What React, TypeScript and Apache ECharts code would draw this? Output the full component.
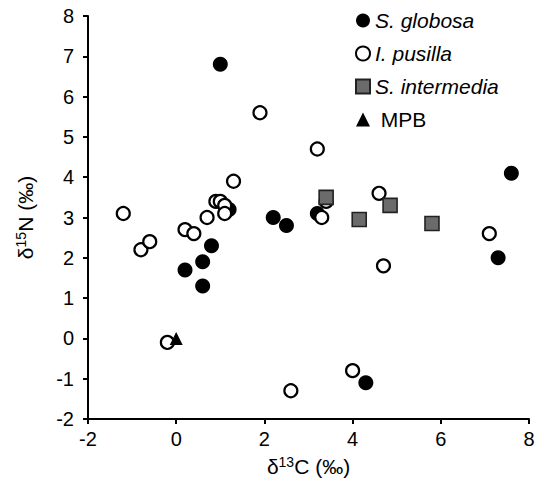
import React, { useEffect, useRef } from "react";
import * as echarts from "echarts";

const globosaX = [1.0, 0.2, 0.6, 0.6, 0.8, 1.2, 2.2, 2.5, 3.2, 4.3, 7.3, 7.6];
const globosaY = [6.8, 1.7, 1.9, 1.3, 2.3, 3.2, 3.0, 2.8, 3.1, -1.1, 2.0, 4.1];

const pusillaX = [-1.2, -0.8, -0.6, -0.2, 0.2, 0.4, 0.7, 0.9, 1.0, 1.1, 1.1, 1.3, 1.9, 2.6, 3.2, 3.3, 3.4, 4.0, 4.6, 4.7, 7.1];
const pusillaY = [3.1, 2.2, 2.4, -0.1, 2.7, 2.6, 3.0, 3.4, 3.4, 3.3, 3.1, 3.9, 5.6, -1.3, 4.7, 3.0, 3.4, -0.8, 3.6, 1.8, 2.6];

const intermediaX = [3.4, 4.15, 4.85, 5.8];
const intermediaY = [3.5, 2.95, 3.3, 2.85];

const mpbX = [0];
const mpbY = [0];

const seriesNames = ["S. globosa", "I. pusilla", "S. intermedia", "MPB"];

const xTicks = { min: -2, max: 8, interval: 2 };
const yTicks = { min: -2, max: 8, interval: 1 };

const zip = (xs: number[], ys: number[]) => xs.map((x, i) => [x, ys[i]]);

const FONT = "Arial, 'Liberation Sans', sans-serif";

export default function App() {
  const ref = useRef<HTMLDivElement>(null);
  useEffect(() => {
    if (!ref.current) return;
    const chart = echarts.init(ref.current, undefined, { renderer: "svg" });
    const axisCommon = {
      axisLine: { show: true, onZero: false, lineStyle: { color: "#000", width: 2 } },
      axisTick: { show: true, length: 5, lineStyle: { color: "#000", width: 2 } },
      splitLine: { show: false },
      axisLabel: { color: "#000", fontSize: 20, fontFamily: FONT },
      nameTextStyle: {
        color: "#000",
        fontSize: 21,
        fontFamily: FONT,
        rich: {
          sup: { fontSize: 14, fontFamily: FONT, color: "#000", verticalAlign: "top", padding: [0, 0, 8, 0] },
          n: { fontSize: 21, fontFamily: FONT, color: "#000" },
        },
      },
    };
    chart.setOption({
      animation: false,
      backgroundColor: "#fff",
      grid: { left: 88, right: 9, top: 16, bottom: 69 },
      xAxis: {
        type: "value",
        ...xTicks,
        ...axisCommon,
        axisLabel: { ...axisCommon.axisLabel, margin: 10 },
        name: "{n|δ}{sup|13}{n|C (‰)}",
        nameLocation: "middle",
        nameGap: 36,
      },
      yAxis: {
        type: "value",
        ...yTicks,
        ...axisCommon,
        axisLabel: { ...axisCommon.axisLabel, margin: 14 },
        name: "{n|δ}{sup|15}{n|N (‰)}",
        nameLocation: "middle",
        nameGap: 52,
        nameRotate: 90,
      },
      legend: {
        orient: "vertical",
        left: 350,
        top: 5,
        itemWidth: 14,
        itemHeight: 14,
        itemGap: 12,
        formatter: (name: string) => (name === "MPB" ? " MPB" : name),
        textStyle: { color: "#000", fontSize: 21, fontFamily: FONT },
        data: [
          { name: seriesNames[0], textStyle: { fontStyle: "italic" } },
          { name: seriesNames[1], textStyle: { fontStyle: "italic" } },
          { name: seriesNames[2], textStyle: { fontStyle: "italic" } },
          { name: seriesNames[3] },
        ],
      },
      series: [
        {
          name: seriesNames[0],
          type: "scatter",
          symbol: "circle",
          symbolSize: 15,
          itemStyle: { color: "#000", borderColor: "#000", borderWidth: 0, opacity: 1 },
          data: zip(globosaX, globosaY),
        },
        {
          name: seriesNames[1],
          type: "scatter",
          symbol: "circle",
          symbolSize: 13,
          itemStyle: { color: "#fff", borderColor: "#000", borderWidth: 2.2, opacity: 1 },
          data: zip(pusillaX, pusillaY),
        },
        {
          name: seriesNames[2],
          type: "scatter",
          symbol: "rect",
          symbolSize: 14,
          itemStyle: { color: "#6b6b6b", borderColor: "#222", borderWidth: 1.6, opacity: 1 },
          data: zip(intermediaX, intermediaY),
        },
        {
          name: seriesNames[3],
          type: "scatter",
          symbol: "triangle",
          symbolSize: 13,
          itemStyle: { color: "#000", opacity: 1 },
          data: zip(mpbX, mpbY),
        },
      ],
    });
    return () => chart.dispose();
  }, []);
  return <div ref={ref} style={{ width: 538, height: 488, position: "absolute", left: 0, top: 0 }} />;
}
